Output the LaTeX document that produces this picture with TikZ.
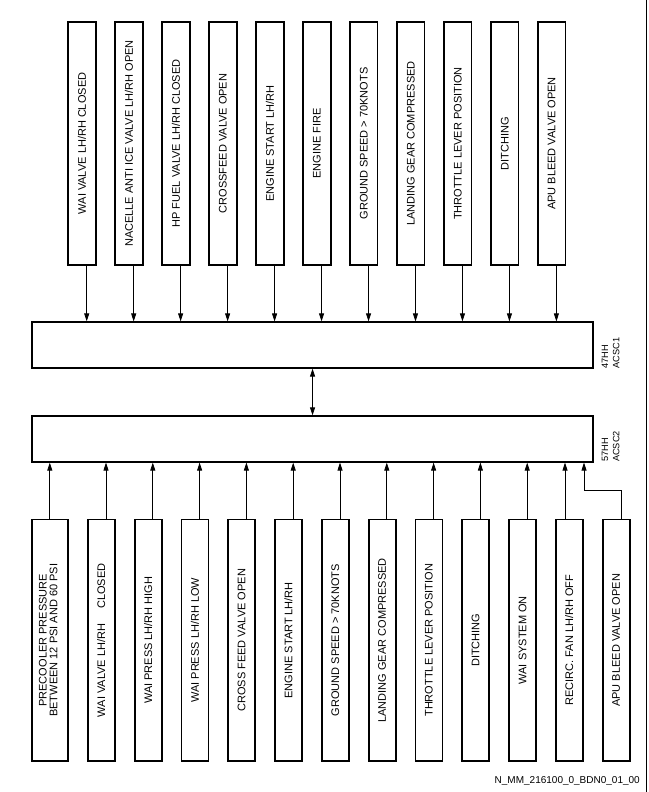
\documentclass[tikz,border=0pt]{standalone}
\usepackage{fontspec}
\setmainfont{Liberation Sans}
\usetikzlibrary{arrows.meta}
\begin{document}
\begin{tikzpicture}[x=1pt,y=-1pt,
  box/.style={draw, line width=1.8pt, inner sep=0pt, font=\fontsize{11}{10.5}\selectfont},
  topbox/.style={box, minimum width=27.5pt, minimum height=242.5pt},
  botbox/.style={box, minimum width=27pt, minimum height=241.5pt},
  ctrl/.style={draw, line width=1.8pt, minimum width=560.5pt, minimum height=45.4pt, inner sep=0pt},
  arr/.style={line width=0.8pt, -{Triangle[length=8pt,width=5pt]}},
  dbl/.style={line width=0.8pt, {Triangle[length=8pt,width=5pt]}-{Triangle[length=8pt,width=5pt]}},
  lbl/.style={font=\fontsize{9.2}{11.3}\selectfont, rotate=90, align=left, inner sep=0pt, anchor=north west},
  foot/.style={font=\fontsize{10}{12}\selectfont, inner sep=0pt, anchor=base east}
]
\useasboundingbox (0,0) rectangle (648,792);
\fill[white] (0,0) rectangle (648,792);

% right frame line
\draw[line width=0.8pt] (646,0) -- (646,792);

% controllers
\node[ctrl] (acsc1) at (312.55,345) {};
\node[ctrl] (acsc2) at (312.55,439) {};
\node[lbl] (l1) at (601.5,368.5) {47HH\\ACSC1};
\node[lbl] (l2) at (601.5,462) {57HH\\ACSC2};
\draw[dbl] (acsc1.south) -- (acsc2.north);

% top inputs
\node[topbox] (t1)  at (82,143.5)     {\rotatebox{90}{WAI VALVE LH/RH CLOSED}};
\node[topbox] (t2)  at (128.97,143.5) {\rotatebox{90}{NACELLE ANTI ICE VALVE LH/RH OPEN}};
\node[topbox] (t3)  at (175.94,143.5) {\rotatebox{90}{HP FUEL VALVE LH/RH CLOSED}};
\node[topbox] (t4)  at (222.91,143.5) {\rotatebox{90}{CROSSFEED VALVE OPEN}};
\node[topbox] (t5)  at (269.88,143.5) {\rotatebox{90}{ENGINE START LH/RH}};
\node[topbox] (t6)  at (316.85,143.5) {\rotatebox{90}{ENGINE FIRE}};
\node[topbox] (t7)  at (363.82,143.5) {\rotatebox{90}{GROUND SPEED > 70KNOTS}};
\node[topbox] (t8)  at (410.79,143.5) {\rotatebox{90}{LANDING GEAR COMPRESSED}};
\node[topbox] (t9)  at (457.76,143.5) {\rotatebox{90}{THROTTLE LEVER POSITION}};
\node[topbox] (t10) at (504.73,143.5) {\rotatebox{90}{DITCHING}};
\node[topbox] (t11) at (551.7,143.5)  {\rotatebox{90}{APU BLEED VALVE OPEN}};

\foreach \i in {1,...,11}{
  \draw[arr] ([xshift=4.7pt]t\i.south) -- ([xshift=4.7pt]t\i.south |- acsc1.north);
}

% bottom inputs
\node[botbox, minimum width=36pt] (b1) at (49.8,640.3)
  {\rotatebox{90}{\begin{tabular}{@{}c@{}}PRECOOLER PRESSURE\\BETWEEN 12 PSI AND 60 PSI\end{tabular}}};
\node[botbox] (b2)  at (101.3,640.3) {\rotatebox{90}{WAI VALVE LH/RH\hspace{12pt} CLOSED}};
\node[botbox] (b3)  at (148.1,640.3) {\rotatebox{90}{WAI PRESS LH/RH HIGH}};
\node[botbox] (b4)  at (194.9,640.3) {\rotatebox{90}{WAI PRESS LH/RH LOW}};
\node[botbox] (b5)  at (241.7,640.3) {\rotatebox{90}{CROSS FEED VALVE OPEN}};
\node[botbox] (b6)  at (288.5,640.3) {\rotatebox{90}{ENGINE START LH/RH}};
\node[botbox] (b7)  at (335.3,640.3) {\rotatebox{90}{GROUND SPEED > 70KNOTS}};
\node[botbox] (b8)  at (382.1,640.3) {\rotatebox{90}{LANDING GEAR COMPRESSED}};
\node[botbox] (b9)  at (428.9,640.3) {\rotatebox{90}{THROTTLE LEVER POSITION}};
\node[botbox] (b10) at (475.7,640.3) {\rotatebox{90}{DITCHING}};
\node[botbox] (b11) at (522.5,640.3) {\rotatebox{90}{WAI SYSTEM ON}};
\node[botbox] (b12) at (569.3,640.3) {\rotatebox{90}{RECIRC. FAN LH/RH OFF}};
\node[botbox] (b13) at (616.1,640.3) {\rotatebox{90}{APU BLEED VALVE OPEN}};

\draw[arr] (b1.north) -- (b1.north |- acsc2.south);
\foreach \i in {2,...,11}{
  \draw[arr] ([xshift=4.7pt]b\i.north) -- ([xshift=4.7pt]b\i.north |- acsc2.south);
}
\draw[arr] ([xshift=-4.3pt]b12.north) -- ([xshift=-4.3pt]b12.north |- acsc2.south);
\coordinate (bend) at (584,490);
\draw[arr] ([xshift=5.5pt]b13.north) |- (bend) -- (bend |- acsc2.south);

% footer
\node[foot] (footer) at (640,783) {N\_MM\_216100\_0\_BDN0\_01\_00};
\end{tikzpicture}
\end{document}
